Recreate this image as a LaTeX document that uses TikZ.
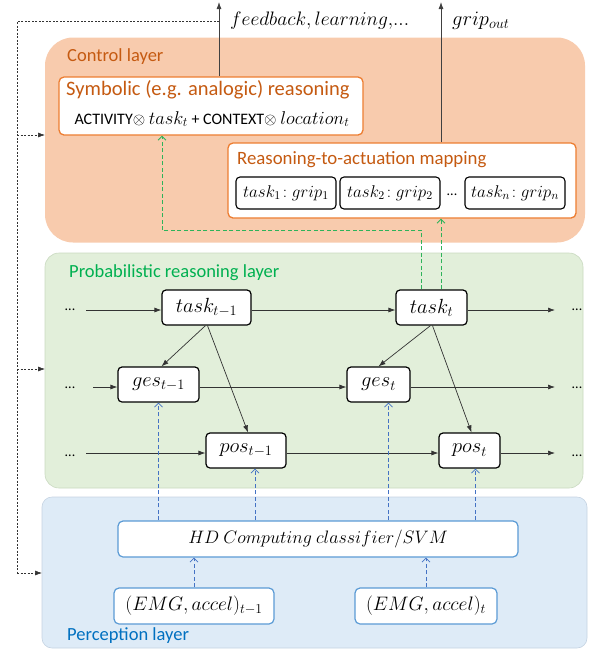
\RequirePackage{fix-cm}
\documentclass[tikz,border=0pt]{standalone}
\usepackage{fontspec}
\setmainfont{Carlito}
\usetikzlibrary{arrows.meta}
\definecolor{ctrlfill}{HTML}{F8CBAD}
\definecolor{ctrltext}{HTML}{C55A11}
\definecolor{ctrlline}{HTML}{ED7D31}
\definecolor{probfill}{HTML}{E2EFDA}
\definecolor{probline}{HTML}{C9D9C0}
\definecolor{probtext}{HTML}{00B050}
\definecolor{greendash}{HTML}{2EB35A}
\definecolor{percfill}{HTML}{DEEBF7}
\definecolor{percline}{HTML}{C5D3E2}
\definecolor{perctext}{HTML}{0070C0}
\definecolor{blueline}{HTML}{5B9BD5}
\definecolor{bluedash}{HTML}{4472C4}
\tikzset{
  layerbox/.style={inner sep=0pt, outer sep=0pt},
  layertitle/.style={anchor=west, inner sep=0pt, font=\fontsize{18.5}{22}\selectfont},
  orangebox/.style={draw=ctrlline, line width=1.3pt, fill=white, rounded corners=5pt, inner sep=0pt},
  mapbox/.style={draw=black, line width=1.1pt, fill=white, rounded corners=4pt, inner sep=0pt, minimum height=32pt, font=\fontsize{17}{20}\selectfont},
  pnode/.style={draw=black, line width=1.2pt, fill=white, rounded corners=4pt, inner sep=0pt, minimum height=35pt, font=\fontsize{20.5}{24}\selectfont},
  bluebox/.style={draw=blueline, line width=1.2pt, fill=white, rounded corners=5pt, inner sep=0pt, minimum height=36pt, font=\fontsize{19.5}{23}\selectfont},
  dots/.style={inner sep=0pt, font=\fontsize{14}{16}\selectfont},
  flow/.style={draw=black!80, line width=0.7pt, -{Latex[length=7pt,width=5pt]}},
  upflow/.style={draw=black!75, line width=0.8pt, -{Latex[length=7pt,width=5pt]}},
  fbdot/.style={draw=black!80, line width=0.6pt, dash pattern=on 2pt off 1.5pt},
  fbarrow/.style={fbdot, -{Latex[length=7pt,width=5pt]}},
  greenarrow/.style={draw=greendash, line width=0.8pt, dash pattern=on 4pt off 2.5pt, -{Straight Barb[open, length=4pt, width=8pt]}},
  greenline/.style={draw=greendash, line width=0.8pt, dash pattern=on 4pt off 2.5pt},
  bluearrow/.style={draw=bluedash, line width=0.8pt, dash pattern=on 4pt off 2.5pt, -{Straight Barb[open, length=4pt, width=8pt]}},
  lbl/.style={anchor=west, inner sep=0pt, font=\fontsize{19.5}{23}\selectfont}
}
\begin{document}
\begin{tikzpicture}[x=1pt,y=-1pt]
\useasboundingbox (0,0) rectangle (590,649);
% layers
\node[layerbox, fill=ctrlfill, rounded corners=28pt, minimum width=540pt, minimum height=205pt] (ctrl) at (315,140) {};
\node[layerbox, fill=probfill, draw=probline, line width=0.6pt, rounded corners=14pt, minimum width=538pt, minimum height=235pt] (prob) at (314,370.5) {};
\node[layerbox, fill=percfill, draw=percline, line width=0.6pt, rounded corners=10pt, minimum width=545pt, minimum height=151pt] (perc) at (314.5,572.5) {};
\node[layertitle, text=ctrltext] (ctrlt) at (67,57) {Control layer};
\node[layertitle, text=probtext] (probt) at (69,273) {Probabilistic reasoning layer};
\node[layertitle, text=perctext] (perct) at (67,636) {Perception layer};

% control layer boxes
\node[orangebox, minimum width=304pt, minimum height=58pt] (symb) at (211,106) {};
\node[anchor=west, inner sep=0pt, text=ctrltext, font=\fontsize{20.5}{24}\selectfont] (symbt) at (66,90) {Symbolic (e.g. analogic) reasoning};
\node[inner sep=0pt, font=\fontsize{16}{19}\selectfont] (symbf) at (212,119) {ACTIVITY$\otimes$ {\fontsize{18.5}{22}\selectfont$task_t$} + CONTEXT$\otimes$ {\fontsize{18.5}{22}\selectfont$location_t$}};

\node[orangebox, minimum width=348pt, minimum height=75pt] (reas) at (402,180.5) {};
\node[anchor=west, inner sep=0pt, text=ctrltext, font=\fontsize{18.8}{22}\selectfont] (reast) at (237,160) {Reasoning-to-actuation mapping};
\node[mapbox, minimum width=100pt] (m1) at (286,193) {$task_1\!:grip_1$};
\node[mapbox, minimum width=100pt] (m2) at (390,193) {$task_2\!:grip_2$};
\node[dots] (mdots) at (452,195) {...};
\node[mapbox, minimum width=100pt] (mn) at (515,193) {$task_n\!:grip_n$};

% outputs
\coordinate (fbtop) at (219,2);
\coordinate (gotop) at (441,2);
\draw[upflow] (symb.north -| fbtop) -- (fbtop);
\draw[upflow] (reas.north -| gotop) -- (gotop);
\node[lbl] (fbl) at (230,21) {$feedback, learning,\!...$};
\node[lbl, font=\fontsize{20.5}{24}\selectfont] (gol) at (452,21) {$grip_{out}$};

% feedback dotted
\coordinate (fbj) at (219,21);
\coordinate (fbc) at (17,21);
\coordinate (fbb) at (17,573);
\coordinate (fb1) at (17,135);
\coordinate (fb2) at (17,369);
\draw[fbdot] (fbj) -- (fbc) -- (fbb);
\draw[fbarrow] (fbb) -- (perc.west |- fbb);
\draw[fbarrow] (fb1) -- (ctrl.west |- fb1);
\draw[fbarrow] (fb2) -- (prob.west |- fb2);

% probabilistic nodes
\node[pnode, minimum width=89pt] (tkm) at (206.5,307.5) {$task_{t-1}$};
\node[pnode, minimum width=71pt] (tk) at (431.5,307.5) {$task_t$};
\node[pnode, minimum width=81pt] (gsm) at (158.5,384.5) {$ges_{t-1}$};
\node[pnode, minimum width=63pt] (gs) at (378.5,384.5) {$ges_t$};
\node[pnode, minimum width=80pt] (psm) at (246,450.5) {$pos_{t-1}$};
\node[pnode, minimum width=61pt] (ps) at (469.5,450.5) {$pos_t$};

\node[dots] (dl1) at (70,310) {...};
\node[dots] (dl2) at (70,388) {...};
\node[dots] (dl3) at (70,456) {...};
\node[dots] (dr1) at (577,310) {...};
\node[dots] (dr2) at (577,388) {...};
\node[dots] (dr3) at (577,456) {...};

\coordinate (s1) at (86,310);
\coordinate (s2) at (93,387);
\coordinate (s3) at (86,453);
\coordinate (e1) at (555,310);
\coordinate (e2) at (555,387);
\coordinate (e3) at (555,453);
\draw[flow] (s1) -- (tkm.west |- s1);
\draw[flow] (tkm.east |- s1) -- (tk.west |- s1);
\draw[flow] (tk.east |- s1) -- (e1);
\draw[flow] (s2) -- (gsm.west |- s2);
\draw[flow] (gsm.east |- s2) -- (gs.west |- s2);
\draw[flow] (gs.east |- s2) -- (e2);
\draw[flow] (s3) -- (psm.west |- s3);
\draw[flow] (psm.east |- s3) -- (ps.west |- s3);
\draw[flow] (ps.east |- s3) -- (e3);

\draw[flow] ([xshift=-1pt]tkm.south) -- ([xshift=3pt]gsm.north);
\draw[flow] ([xshift=1pt]tkm.south) -- ([xshift=2pt]psm.north);
\draw[flow] ([xshift=-1pt]tk.south) -- ([xshift=0pt]gs.north);
\draw[flow] ([xshift=1pt]tk.south) -- ([xshift=2pt]ps.north);

% green dashed
\coordinate (gj1) at (421,230);
\coordinate (gj2) at (162,230);
\coordinate (gr) at (441,0);
\draw[greenline] ([xshift=-10.5pt]tk.north) -- (gj1) -- (gj2);
\draw[greenarrow] (gj2) -- (symb.south -| gj2);
\draw[greenarrow] ([xshift=9.5pt]tk.north) -- (reas.south -| gr);

% perception
\node[bluebox, minimum width=400pt, font=\fontsize{18}{22}\selectfont] (hd) at (318,539) {$HD\ Computing\ classifier/SVM$};
\node[bluebox, minimum width=160pt] (emgm) at (194,606) {$(EMG, accel)_{t-1}$};
\node[bluebox, minimum width=142pt] (emg) at (426,606) {$(EMG, accel)_t$};

\coordinate (bpsm) at ([xshift=9pt]psm.south);
\coordinate (bgs) at ([xshift=10pt]gs.south);
\coordinate (bps) at ([xshift=6pt]ps.south);
\draw[bluearrow] (emgm.north) -- (hd.south -| emgm.north);
\draw[bluearrow] (emg.north) -- (hd.south -| emg.north);
\draw[bluearrow] (hd.north -| gsm.south) -- (gsm.south);
\draw[bluearrow] (hd.north -| bpsm) -- (bpsm);
\draw[bluearrow] (hd.north -| bgs) -- (bgs);
\draw[bluearrow] (hd.north -| bps) -- (bps);
\end{tikzpicture}
\end{document}
